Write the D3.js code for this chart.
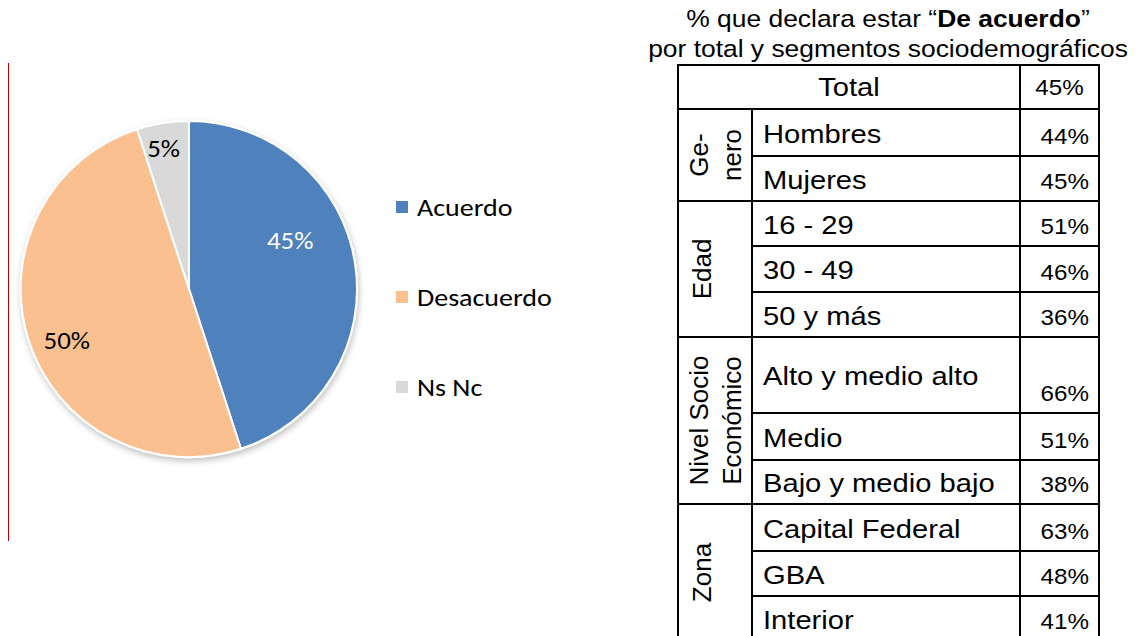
<!DOCTYPE html>
<html lang="es">
<head>
<meta charset="UTF-8">
<title>De acuerdo</title>
<script src="https://d3js.org/d3.v7.min.js"></script>
<style>
  body { margin: 0; padding: 0; background: #fff; }
  .pie-txt { font-family: Carlito, Lato, "Open Sans", sans-serif; }
  .tbl-txt { font-family: "Liberation Sans", Arial, sans-serif; fill: #000; }
  .grid { stroke: #000; stroke-width: 2; fill: none; }
</style>
</head>
<body>
<div id="chart"></div>
<script>
// pie data
const categories = ["Acuerdo", "Desacuerdo", "Ns Nc"];
const shares = [45, 50, 5];
const sliceColors = ["#4F81BD", "#FAC090", "#D9D9D9"];
const labelColors = ["#fff", "#000", "#000"];

// table data
const titleLine1 = ["% que declara estar \u201C", "De acuerdo", "\u201D"];
const titleLine2 = "por total y segmentos sociodemogr\u00E1ficos";
const totalLabel = "Total";
const totalValue = 45;
const groupNames = [["Ge-", "nero"], ["Edad"], ["Nivel Socio", "Econ\u00F3mico"], ["Zona"]];
const segmentLabels = ["Hombres", "Mujeres", "16 - 29", "30 - 49", "50 y m\u00E1s",
  "Alto y medio alto", "Medio", "Bajo y medio bajo", "Capital Federal", "GBA", "Interior"];
const segmentGroup = [0, 0, 1, 1, 1, 2, 2, 2, 3, 3, 3];
const segmentValues = [44, 45, 51, 46, 36, 66, 51, 38, 63, 48, 41];

const W = 1137, H = 636;
const svg = d3.select("#chart").append("svg").attr("width", W).attr("height", H);

// drop shadow for the pie
const defs = svg.append("defs");
defs.append("filter").attr("id", "shadow")
  .attr("x", "-10%").attr("y", "-10%").attr("width", "130%").attr("height", "130%")
  .append("feDropShadow")
  .attr("dx", 1).attr("dy", 3).attr("stdDeviation", 3)
  .attr("flood-color", "#000").attr("flood-opacity", 0.25);

// red rule on the left
svg.append("line")
  .attr("x1", 8.5).attr("x2", 8.5).attr("y1", 63).attr("y2", 541)
  .attr("stroke", "#C00000").attr("stroke-width", 1);

// ---- pie ----
const cx = 189, cy = 289, R = 168;
const PX = 1.12; // calibri is wider than the fallback font
const pie = d3.pie().sort(null).value(d => d)(shares);
const arc = d3.arc().innerRadius(0).outerRadius(R);
const gp = svg.append("g").attr("transform", `translate(${cx},${cy})`);

gp.append("g").attr("filter", "url(#shadow)")
  .selectAll("path")
  .data(pie)
  .enter()
  .append("path")
  .attr("d", arc)
  .attr("fill", (d, i) => sliceColors[i])
  .attr("stroke", "#fff")
  .attr("stroke-width", 2)
  .attr("stroke-linejoin", "round");

// label placement (Excel best fit): radius fraction + small nudge
const labelRadius = [0.67, 0.79, 0.85];
const labelNudge = [[-10, -31], [4, 10], [-3, 0]];
gp.selectAll("text.lbl")
  .data(pie)
  .enter()
  .append("text")
  .attr("class", "lbl pie-txt")
  .attr("transform", (d, i) => {
    const c = d3.arc().innerRadius(R * labelRadius[i]).outerRadius(R * labelRadius[i]).centroid(d);
    return `translate(${c[0] + labelNudge[i][0]},${c[1] + labelNudge[i][1]}) scale(${PX},1)`;
  })
  .attr("text-anchor", "middle")
  .attr("dy", "0.36em")
  .style("font-size", "24px")
  .attr("fill", (d, i) => labelColors[i])
  .text(d => d.data + "%");

// legend
const ly = d3.scalePoint().domain(categories).range([207, 387]);
const lg = svg.append("g");
lg.selectAll("rect")
  .data(categories)
  .enter()
  .append("rect")
  .attr("x", 396).attr("y", d => ly(d) - 6)
  .attr("width", 12).attr("height", 12)
  .attr("fill", (d, i) => sliceColors[i]);
lg.selectAll("text")
  .data(categories)
  .enter()
  .append("text")
  .attr("class", "pie-txt")
  .attr("transform", d => `translate(417,${ly(d) + 9}) scale(${PX},1)`)
  .style("font-size", "25px")
  .attr("fill", "#000")
  .text(d => d);

// ---- table ----
const SX = 1.1; // horizontal stretch of the original text
function sText(parent, x, y, str, anchor, size) {
  return parent.append("text")
    .attr("class", "tbl-txt")
    .attr("transform", `translate(${x},${y}) scale(${SX},1)`)
    .attr("text-anchor", anchor)
    .style("font-size", size + "px")
    .text(str);
}

const gt = svg.append("g");
const xL = 678, xG = 752, xV = 1020, xR = 1099, tTop = 65;
const rowHeights = [44, 47, 45, 45, 46, 45, 76, 47, 44, 47, 45, 45];
const rowTops = [tTop];
rowHeights.forEach((h, i) => rowTops.push(rowTops[i] + h));

// title
const t1 = gt.append("text").attr("class", "tbl-txt")
  .attr("transform", `translate(888,27) scale(${SX},1)`)
  .attr("text-anchor", "middle").style("font-size", "24px");
titleLine1.forEach((s, i) => t1.append("tspan").style("font-weight", i === 1 ? "bold" : "normal").text(s));
sText(gt, 888, 57, titleLine2, "middle", 24);

// total row
sText(gt, (xL + xV) / 2, rowTops[0] + 31, totalLabel, "middle", 26.5);
sText(gt, (xV + xR) / 2, rowTops[1] - 14, totalValue + "%", "middle", 22);

// segment rows
segmentLabels.forEach((s, i) => {
  const top = rowTops[i + 1], bot = rowTops[i + 2];
  sText(gt, 763, (top + bot) / 2 + 10, s, "start", 26.5);
  sText(gt, 1089, bot - 12, segmentValues[i] + "%", "end", 22);
});

// group labels (rotated)
groupNames.forEach((lines, g) => {
  const idx = segmentGroup.map((v, i) => v === g ? i : -1).filter(i => i >= 0);
  const top = rowTops[idx[0] + 1], bot = rowTops[idx[idx.length - 1] + 2];
  const mid = (top + bot) / 2;
  const bases = lines.length === 1 ? [711] : [708, 741];
  lines.forEach((s, k) => {
    gt.append("text")
      .attr("class", "tbl-txt")
      .attr("transform", `translate(${bases[k]},${mid}) rotate(-90)`)
      .attr("text-anchor", "middle")
      .style("font-size", "26px")
      .text(s);
  });
});

// grid lines
const bottom = rowTops[rowTops.length - 1];
gt.append("rect").attr("class", "grid")
  .attr("x", xL).attr("y", tTop).attr("width", xR - xL).attr("height", bottom - tTop);
gt.append("line").attr("class", "grid").attr("x1", xV).attr("x2", xV).attr("y1", tTop).attr("y2", bottom);
gt.append("line").attr("class", "grid").attr("x1", xG).attr("x2", xG).attr("y1", rowTops[1]).attr("y2", bottom);
rowTops.slice(1, -1).forEach((y, j) => {
  // boundary j sits above segment j; draw it full width where a new group begins
  const full = j === 0 || segmentGroup[j] !== segmentGroup[j - 1];
  gt.append("line").attr("class", "grid")
    .attr("x1", full ? xL : xG).attr("x2", xR).attr("y1", y).attr("y2", y);
});
</script>
</body>
</html>
